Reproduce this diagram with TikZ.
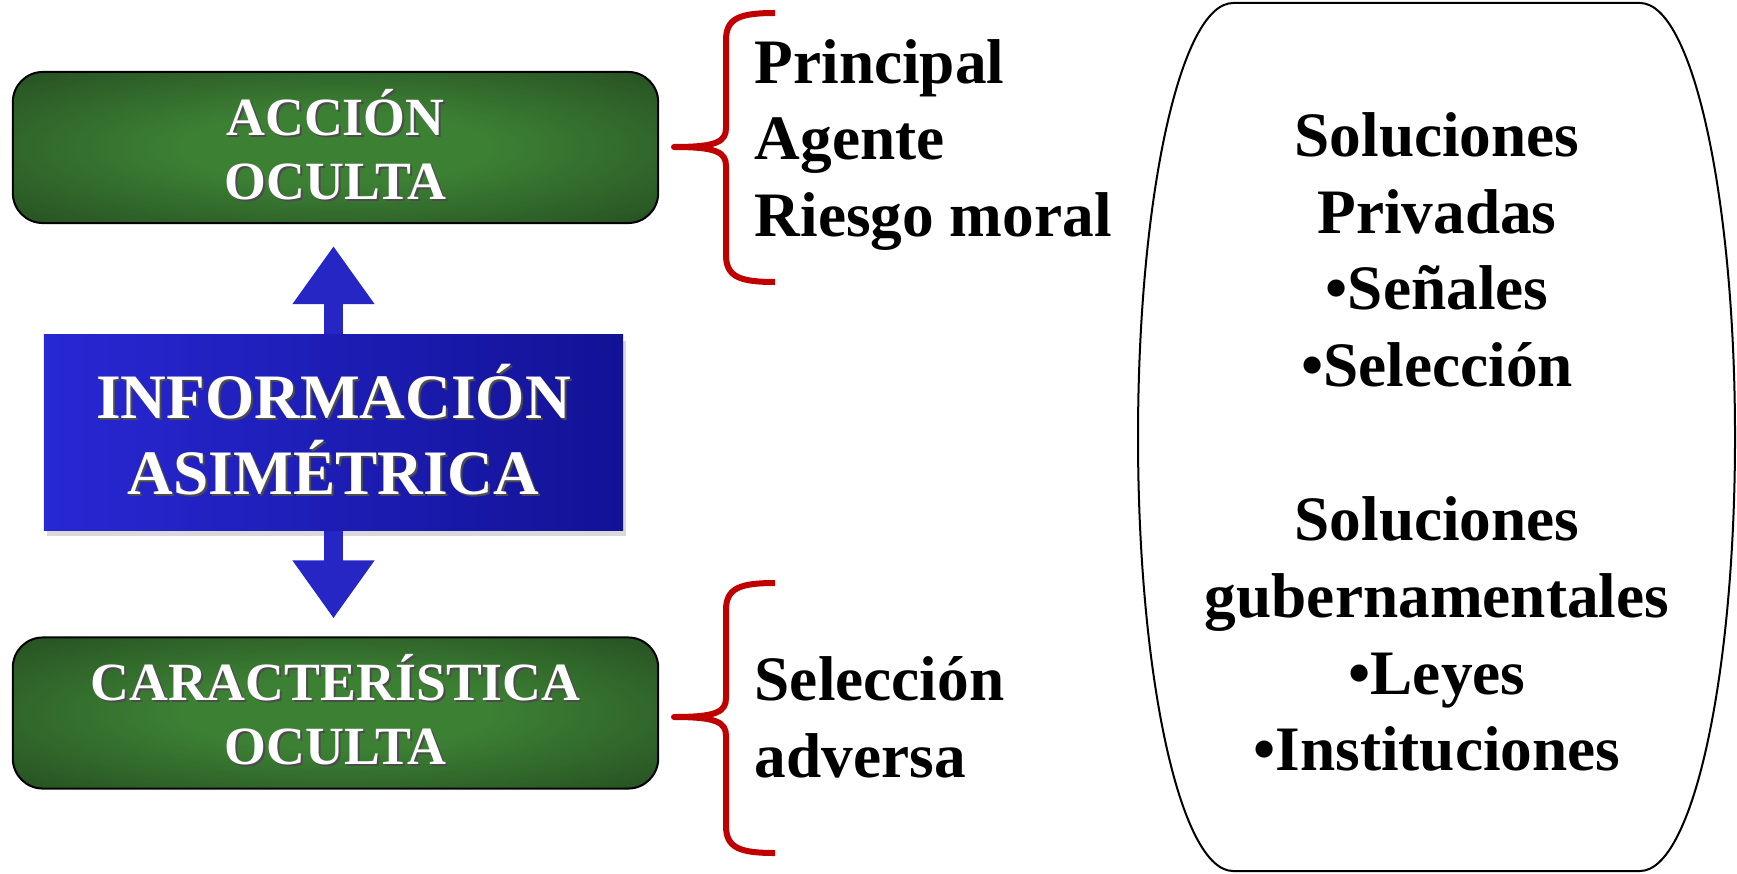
\documentclass[tikz,border=0pt]{standalone}
\usepackage{fontspec}
\setmainfont{Liberation Serif}
\usetikzlibrary{arrows.meta, shadows}

\definecolor{glowgreen}{RGB}{60,128,52}
\definecolor{darkgreen}{RGB}{29,60,26}
\definecolor{infoblue}{RGB}{40,40,212}
\definecolor{deepblue}{RGB}{18,18,150}
\definecolor{arrowblue}{RGB}{38,38,196}
\definecolor{bracered}{RGB}{192,0,0}

\pgfdeclareradialshading{greenglow}{\pgfpoint{0bp}{0bp}}{%
  color(0bp)=(glowgreen); color(12bp)=(glowgreen); color(46bp)=(darkgreen); color(72bp)=(darkgreen)}

\newcommand{\shadowed}[1]{\makebox[0pt][l]{\kern0.6pt\raisebox{-0.6pt}{\color{black!70}#1}}#1}
\newcommand{\liftstrut}{\rule[-0.066cm]{0pt}{0pt}}

\tikzset{
  greenbox/.style={draw=black, line width=0.02cm, rounded corners=0.3cm, shading=greenglow,
    minimum width=6.45cm, minimum height=1.51cm, inner sep=0pt, text=white, align=center,
    font=\fontsize{15.3}{18.2}\selectfont\bfseries},
  infobox/.style={left color=infoblue, right color=deepblue, minimum width=5.79cm,
    minimum height=1.95cm, inner sep=0pt, text=white, align=center,
    font=\fontsize{18}{21.6}\selectfont\bfseries,
    drop shadow={shadow xshift=0.03cm, shadow yshift=-0.06cm, opacity=0.3}},
  bigarrow/.style={draw=arrowblue, line width=0.19cm, -{Triangle[length=0.58cm, width=0.78cm]}},
  redbrace/.style={draw=bracered, line width=0.06cm, line join=round},
  bold text/.style={inner sep=0pt, font=\fontsize{18}{21.85}\selectfont\bfseries},
}

\begin{document}
\begin{tikzpicture}[x=0.01cm, y=-0.01cm]
\useasboundingbox (0,0) rectangle (1737,873);
% left column
\node[greenbox] (accion) at (335.5,147.5) {\shadowed{ACCIÓN}\\\shadowed{OCULTA}\liftstrut};
\node[infobox] (info) at (333.5,432.5) {\shadowed{INFORMACIÓN}\\\shadowed{ASIMÉTRICA}\liftstrut};
\node[greenbox] (caract) at (335.5,713) {\shadowed{CARACTERÍSTICA}\\\shadowed{OCULTA}\liftstrut};
\draw[bigarrow, shorten >=0.22cm] (info.north) -- (info.north |- accion.south);
\draw[bigarrow, shorten >=0.18cm] (info.south) -- (info.south |- caract.north);
% braces
\draw[redbrace] (775,13) .. controls (740,13) and (726,18) .. (726,40) -- (726,128)
  .. controls (726,142) and (716,147) .. (674,147)
  .. controls (716,147) and (726,152) .. (726,166) -- (726,255)
  .. controls (726,277) and (740,282) .. (775,282);
\draw[redbrace] (775,583) .. controls (740,583) and (726,588) .. (726,610) -- (726,698)
  .. controls (726,712) and (716,717) .. (674,717)
  .. controls (716,717) and (726,722) .. (726,736) -- (726,826)
  .. controls (726,848) and (740,853) .. (775,853);
\node[bold text, align=left, anchor=west] (moral) at (754,145) {Principal\\Agente\\Riesgo moral};
\node[bold text, align=left, anchor=west] (adversa) at (754,717) {Selección\\adversa};
% solutions
\draw[line width=0.02cm] (1233,3) -- (1640,3)
  .. controls (1692.5,3) and (1735,197.3) .. (1735,437)
  .. controls (1735,676.7) and (1692.5,871) .. (1640,871) -- (1233,871)
  .. controls (1180.5,871) and (1138,676.7) .. (1138,437)
  .. controls (1138,197.3) and (1180.5,3) .. (1233,3) -- cycle;
\node[bold text, align=center] (solutions) at (1437,442) {Soluciones\\Privadas\\•Señales\\•Selección\\[21.85pt]Soluciones\\gubernamentales\\•Leyes\\•Instituciones};
\end{tikzpicture}
\end{document}
